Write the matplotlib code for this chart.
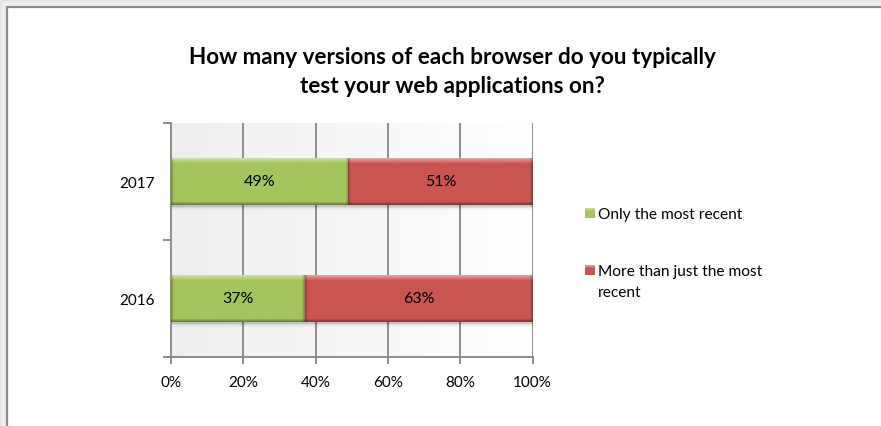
import numpy as np
import matplotlib
matplotlib.use("Agg")
import matplotlib.pyplot as plt
from matplotlib.patches import Rectangle
from matplotlib.colors import to_rgb

plt.rcParams['font.family'] = ['Lato', 'DejaVu Sans']

years = ["2016", "2017"]
only_recent = [37, 49]
more_than_recent = [63, 51]
series_names = ["Only the most recent", "More than just the most\nrecent"]
series_colors = ["#a4c45c", "#cb5550"]
title = "How many versions of each browser do you typically\ntest your web applications on?"

W, H = 881, 427
fig = plt.figure(figsize=(W / 100, H / 100), dpi=100)
fig.patch.set_facecolor("white")

# Outer chart frame with a soft shadow to the top and left
bg = fig.add_axes([0, 0, 1, 1], zorder=-10)
bg.set_xlim(0, W)
bg.set_ylim(H, 0)
bg.axis("off")
sh = np.linspace(0.90, 0.96, 8)
for i, g in enumerate(sh):
    bg.add_patch(Rectangle((i, i), W, 8 - i, color=(g, g, g), lw=0))
    bg.add_patch(Rectangle((i, i), 7 - i, H, color=(g, g, g), lw=0))
bg.add_patch(Rectangle((7, 8), W, H, facecolor="white", edgecolor="#8c8c8c", lw=1.6))

ax = fig.add_axes([171 / W, 69 / H, 361.5 / W, 234 / H])
ax.set_xlim(0, 100)
ax.set_ylim(-0.5, 1.5)

# Plot area background: horizontal gradient light gray -> white
grad = np.linspace(0.935, 1.0, 256)
img = np.dstack([grad, grad, grad]).repeat(2, axis=0)
ax.imshow(img, extent=(0, 100, -0.5, 1.5), aspect="auto", zorder=0, interpolation="bilinear")

for x in range(20, 101, 20):
    ax.axvline(x, color="#868686", lw=1.3, zorder=1)

bar_h = 0.40
ypos = np.arange(len(years))


def bevel_image(color, w_px, h_px):
    base = np.array(to_rgb(color))
    rows = max(int(h_px), 2)
    cols = max(int(w_px), 2)
    im = np.ones((rows, cols, 3)) * base
    r = np.arange(rows)
    c = np.arange(cols)
    # light highlight along top edge
    top = np.clip(1 - r / 5.0, 0, 1)[:, None] * 0.45
    # darker band along bottom edge
    bot = np.clip(1 - (rows - 1 - r) / 3.0, 0, 1)[:, None] * 0.35
    # darker strips on left/right edges
    side = (np.clip(1 - c / 2.5, 0, 1) + np.clip(1 - (cols - 1 - c) / 3.0, 0, 1))[None, :] * 0.25
    im = im + (1 - im) * top[:, :, None]
    im = im * (1 - bot[:, :, None])
    im = im * (1 - side[:, :, None])
    return np.clip(im, 0, 1)


px_per_x = 361.5 / 100
px_per_y = 234 / 2.0
for vals, lefts, color in [
    (only_recent, [0] * len(years), series_colors[0]),
    (more_than_recent, only_recent, series_colors[1]),
]:
    for y, v, l in zip(ypos, vals, lefts):
        # soft drop shadow beneath each segment
        for k, a in enumerate([0.10, 0.07, 0.04]):
            ax.add_patch(Rectangle((l + 0.2, y - bar_h / 2 - (k + 1) * 1.6 / px_per_y), v,
                                   bar_h, color="black", alpha=a, lw=0, zorder=2))
        ax.barh(y, v, left=l, height=bar_h, color=color, zorder=3, lw=0)
        ax.imshow(bevel_image(color, v * px_per_x, bar_h * px_per_y),
                  extent=(l, l + v, y - bar_h / 2, y + bar_h / 2), aspect="auto",
                  zorder=4, interpolation="bilinear")
        ax.text(l + v / 2, y, f"{v}%", ha="center", va="center", fontsize=11.5,
                color="black", zorder=5)

ax.set_xlim(0, 100)
ax.set_ylim(-0.5, 1.5)

ax.set_xticks(range(0, 101, 20))
ax.set_xticklabels([f"{x}%" for x in range(0, 101, 20)], fontsize=11)
ax.set_yticks(ypos)
ax.set_yticklabels(years, fontsize=11)
ax.tick_params(axis="y", length=0, pad=12)
ax.set_yticks([-0.5, 0.5, 1.5], minor=True)
ax.tick_params(axis="y", which="minor", length=6, color="#868686", width=1.3)
ax.tick_params(axis="x", length=5, color="#868686", width=1.3, pad=8)

for s in ["top", "right"]:
    ax.spines[s].set_visible(False)
for s in ["left", "bottom"]:
    ax.spines[s].set_color("#868686")
    ax.spines[s].set_linewidth(1.3)

fig.text(452 / W, 1 - 72 / H, title, ha="center", va="center", fontsize=16.2,
         fontweight="bold", linespacing=1.45)


def key_square(color, w_px, h_px):
    base = np.array(to_rgb(color))
    im = np.ones((int(h_px), int(w_px), 3)) * base
    r = np.arange(int(h_px))
    top = np.clip(1 - r / 3.0, 0, 1)[:, None, None] * 0.4
    return np.clip(im + (1 - im) * top, 0, 1)


# Legend: colour key squares with their series names
leg_rows = [214, 271]
for name, color, yy in zip(series_names, series_colors, leg_rows):
    bg.imshow(key_square(color, 10, 10), extent=(585, 595, yy + 5, yy - 5),
              aspect="auto", interpolation="bilinear", zorder=5)
    bg.text(598, yy - 6, name, ha="left", va="top", fontsize=11.2, linespacing=1.6, zorder=6)
bg.set_xlim(0, W)
bg.set_ylim(H, 0)

fig.savefig("out.png", dpi=100)
